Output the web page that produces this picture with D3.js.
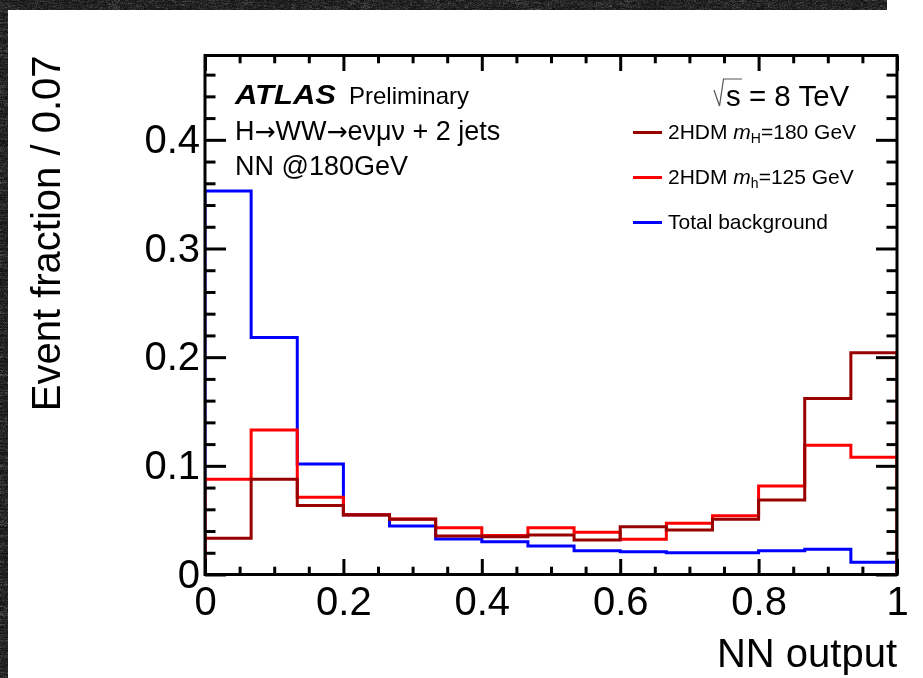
<!DOCTYPE html>
<html>
<head>
<meta charset="utf-8">
<script src="https://cdn.jsdelivr.net/npm/d3@7"></script>
<style>
  html, body { margin: 0; padding: 0; background: #ffffff; overflow: hidden; }
  #wrap { position: relative; width: 923px; height: 678px; background: #ffffff; }
  #wrap canvas { position: absolute; left: 0; top: 0; }
  #chart { position: absolute; left: 0; top: 0; display: block; font-family: "Liberation Sans", Arial, Helvetica, sans-serif; }
</style>
</head>
<body>
<div id="wrap">
  <canvas id="grain" width="923" height="678"></canvas>
  <svg id="chart" width="923" height="678"></svg>
</div>
<script>
// NN output bins: 15 equal bins between 0 and 1
const binEdges = [0, 1/15, 2/15, 3/15, 4/15, 5/15, 6/15, 7/15, 8/15, 9/15, 10/15, 11/15, 12/15, 13/15, 14/15, 1];

// Normalised event fractions per bin
const totalBackground = [0.353, 0.218, 0.1017, 0.055, 0.0446, 0.0327, 0.0302, 0.0262, 0.0219, 0.021, 0.020, 0.020, 0.0219, 0.0232, 0.0112];
const hdm125 = [0.0876, 0.133, 0.071, 0.055, 0.051, 0.043, 0.036, 0.043, 0.0388, 0.0324, 0.0471, 0.054, 0.0814, 0.119, 0.1078];
const hdm180 = [0.0333, 0.0876, 0.0636, 0.0547, 0.0508, 0.0354, 0.0348, 0.0363, 0.0317, 0.044, 0.041, 0.0508, 0.0685, 0.162, 0.204];

// Axis ticks
const xMajorTicks = [0, 0.2, 0.4, 0.6, 0.8, 1];
const xMinorTicks = [0.05, 0.1, 0.15, 0.25, 0.3, 0.35, 0.45, 0.5, 0.55, 0.65, 0.7, 0.75, 0.85, 0.9, 0.95];
const xTickLabels = ["0", "0.2", "0.4", "0.6", "0.8", "1"];
const yMajorTicks = [0, 0.1, 0.2, 0.3, 0.4];
const yMinorTicks = [0.02, 0.04, 0.06, 0.08, 0.12, 0.14, 0.16, 0.18, 0.22, 0.24, 0.26, 0.28, 0.32, 0.34, 0.36, 0.38, 0.42, 0.44, 0.46];
const yTickLabels = ["0", "0.1", "0.2", "0.3", "0.4"];

const series = [
  { name: "Total background", values: totalBackground, color: "#0000ff" },
  { name: "2HDM m_h=125 GeV", values: hdm125, color: "#ff0000" },
  { name: "2HDM m_H=180 GeV", values: hdm180, color: "#990000" }
];

const W = 923, H = 678;
const frame = { left: 205, right: 897, top: 55.5, bottom: 574.5 };

// Dark grainy border strips (top and left) on the canvas underneath the chart
(function paintGrain() {
  const ctx = document.getElementById("grain").getContext("2d");
  ctx.fillStyle = "#ffffff";
  ctx.fillRect(0, 0, W, H);
  const hash = (i, j, seed) => {
    const s = Math.sin(i * 127.1 + j * 311.7 + seed * 74.7) * 43758.5453;
    return s - Math.floor(s);
  };
  const regions = [
    { x: 0, y: 0, w: 887, h: 10, seed: 1 },
    { x: 0, y: 10, w: 8, h: H - 10, seed: 2 }
  ];
  regions.forEach(r => {
    const img = ctx.createImageData(r.w, r.h);
    for (let j = 0; j < r.h; j++) {
      for (let i = 0; i < r.w; i++) {
        const n = 0.5 * hash(i, j, r.seed) + 0.3 * hash(Math.floor(i / 4), j, r.seed) +
                  0.2 * hash(Math.floor(i / 12), Math.floor(j / 2), r.seed);
        const v = Math.round(18 + n * n * 70);
        const k = (j * r.w + i) * 4;
        img.data[k] = v; img.data[k + 1] = v; img.data[k + 2] = v; img.data[k + 3] = 255;
      }
    }
    ctx.putImageData(img, r.x, r.y);
  });
})();

const svg = d3.select("#chart");
const x = d3.scaleLinear().domain([0, 1]).range([frame.left, frame.right]);
const y = d3.scaleLinear().domain([0, 0.4776]).range([frame.bottom, frame.top]);

const defs = svg.append("defs");
defs.append("clipPath").attr("id", "plotClip").append("rect")
  .attr("x", frame.left).attr("y", frame.top)
  .attr("width", frame.right - frame.left).attr("height", frame.bottom - frame.top);

// Histogram outlines (step lines starting and ending at zero)
const line = d3.line().x(d => x(d[0])).y(d => y(d[1]));
function stepPoints(values) {
  const pts = [[binEdges[0], 0]];
  values.forEach((v, i) => {
    pts.push([binEdges[i], v]);
    pts.push([binEdges[i + 1], v]);
  });
  pts.push([binEdges[binEdges.length - 1], 0]);
  return pts;
}
const histG = svg.append("g").attr("clip-path", "url(#plotClip)");
series.forEach(s => {
  histG.append("path")
    .attr("d", line(stepPoints(s.values)))
    .attr("fill", "none")
    .attr("stroke", s.color)
    .attr("stroke-width", 3)
    .attr("stroke-linejoin", "miter");
});

// Axes: ticks on all four sides pointing inward
const fontTick = 40;
function styleAxis(g) {
  g.select(".domain").remove();
  g.selectAll(".tick line").attr("stroke", "#000").attr("stroke-width", 3);
  g.selectAll(".tick text").attr("fill", "#000")
    .attr("font-size", fontTick)
    .attr("font-family", "'Liberation Sans', Arial, Helvetica, sans-serif");
}

const xLabel = d => xTickLabels[xMajorTicks.indexOf(d)];
const yLabel = d => yTickLabels[yMajorTicks.indexOf(d)];

svg.append("g").attr("transform", `translate(0,${frame.bottom})`)
  .call(d3.axisBottom(x).tickValues(xMajorTicks).tickSize(-15.5).tickPadding(12).tickFormat(xLabel))
  .call(styleAxis);
svg.append("g").attr("transform", `translate(0,${frame.bottom})`)
  .call(d3.axisBottom(x).tickValues(xMinorTicks).tickSize(-7.8).tickFormat(""))
  .call(styleAxis);
svg.append("g").attr("transform", `translate(0,${frame.top})`)
  .call(d3.axisTop(x).tickValues(xMajorTicks).tickSize(-15.5).tickFormat(""))
  .call(styleAxis);
svg.append("g").attr("transform", `translate(0,${frame.top})`)
  .call(d3.axisTop(x).tickValues(xMinorTicks).tickSize(-7.8).tickFormat(""))
  .call(styleAxis);

svg.append("g").attr("transform", `translate(${frame.left},0)`)
  .call(d3.axisLeft(y).tickValues(yMajorTicks).tickSize(-21).tickPadding(5).tickFormat(yLabel))
  .call(styleAxis);
svg.append("g").attr("transform", `translate(${frame.left},0)`)
  .call(d3.axisLeft(y).tickValues(yMinorTicks).tickSize(-10.5).tickFormat(""))
  .call(styleAxis);
svg.append("g").attr("transform", `translate(${frame.right},0)`)
  .call(d3.axisRight(y).tickValues(yMajorTicks).tickSize(-21).tickFormat(""))
  .call(styleAxis);
svg.append("g").attr("transform", `translate(${frame.right},0)`)
  .call(d3.axisRight(y).tickValues(yMinorTicks).tickSize(-10.5).tickFormat(""))
  .call(styleAxis);

// Frame
svg.append("rect")
  .attr("x", frame.left).attr("y", frame.top)
  .attr("width", frame.right - frame.left).attr("height", frame.bottom - frame.top)
  .attr("fill", "none").attr("stroke", "#000").attr("stroke-width", 3);

// Axis titles
svg.append("text")
  .attr("x", frame.right).attr("y", 667)
  .attr("text-anchor", "end").attr("font-size", 40).attr("fill", "#000")
  .text("NN output");
svg.append("text")
  .attr("transform", `translate(60,${frame.top}) rotate(-90)`)
  .attr("text-anchor", "end").attr("font-size", 40).attr("fill", "#000")
  .text("Event fraction / 0.07");

// Labels inside the frame
svg.append("text")
  .attr("x", 235).attr("y", 104)
  .attr("font-size", 27).attr("font-weight", "bold").attr("font-style", "italic")
  .attr("textLength", 101).attr("lengthAdjust", "spacingAndGlyphs")
  .text("ATLAS");
svg.append("text")
  .attr("x", 349).attr("y", 104).attr("font-size", 24)
  .text("Preliminary");

// Decay channel, arrows set in a font with full-size arrow glyphs
const channelParts = [
  { t: "H", arrow: false }, { t: "→", arrow: true }, { t: "WW", arrow: false },
  { t: "→", arrow: true }, { t: "eνμν + 2 jets", arrow: false }
];
const channel = svg.append("text").attr("x", 235).attr("y", 140).attr("font-size", 27);
channelParts.forEach(p => {
  const ts = channel.append("tspan").text(p.t);
  if (p.arrow) ts.attr("font-family", "'DejaVu Sans', sans-serif").attr("font-size", 25);
});
svg.append("text")
  .attr("x", 235).attr("y", 175).attr("font-size", 27)
  .text("NN @180GeV");

// Centre-of-mass energy with a drawn radical
svg.append("path")
  .attr("d", "M714,90 L719.5,106 L723.5,79 L742,79")
  .attr("fill", "none").attr("stroke", "#555").attr("stroke-width", 1.2);
svg.append("text")
  .attr("x", 726).attr("y", 105.7).attr("font-size", 29.5)
  .text("s = 8 TeV");

// Legend
const legendRows = [
  { color: "#990000", y: 132.5, pre: "2HDM ", sym: "m", sub: "H", post: "=180 GeV" },
  { color: "#ff0000", y: 177.5, pre: "2HDM ", sym: "m", sub: "h", post: "=125 GeV" },
  { color: "#0000ff", y: 222.5, pre: "Total background" }
];
const lg = svg.append("g");
legendRows.forEach(r => {
  lg.append("line")
    .attr("x1", 633).attr("x2", 662).attr("y1", r.y).attr("y2", r.y)
    .attr("stroke", r.color).attr("stroke-width", 3);
  const t = lg.append("text").attr("x", 668).attr("y", r.y + 6.5).attr("font-size", 21);
  t.append("tspan").text(r.pre);
  if (r.sym) {
    t.append("tspan").attr("font-style", "italic").text(r.sym);
    t.append("tspan").attr("font-size", 14).attr("dy", 4).text(r.sub);
    t.append("tspan").attr("font-size", 21).attr("dy", -4).text(r.post);
  }
});
</script>
</body>
</html>
